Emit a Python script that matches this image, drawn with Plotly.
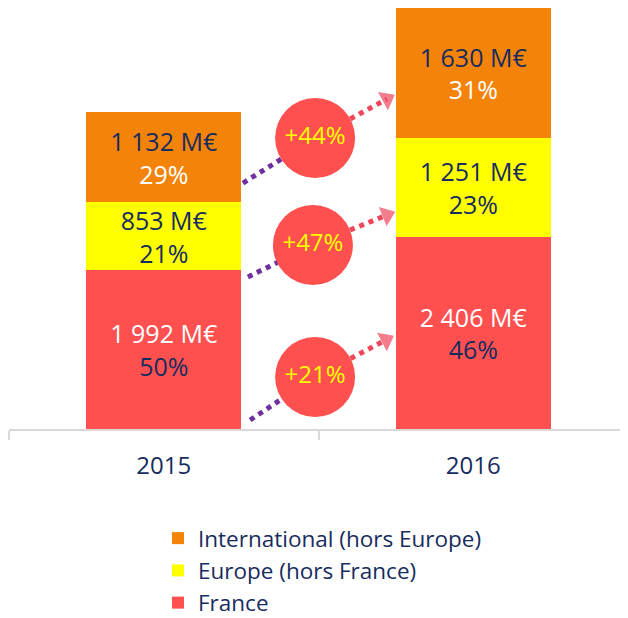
import plotly.graph_objects as go

# ---- data ----
years = ["2015", "2016"]
france = [1992, 2406]
europe = [853, 1251]
international = [1132, 1630]
pct_france = [50, 46]
pct_europe = [21, 23]
pct_international = [29, 31]
series_names = ["France", "Europe (hors France)", "International (hors Europe)"]

# ---- styles ----
FONT = "Open Sans"
NAVY = "#172C5E"
C_FR = "#FF5050"
C_EU = "#FFFF00"
C_INT = "#F4830A"
PURPLE = "#7030A0"
ARROW_RED = "#F0465C"

x_pos = [0, 1]
totals = [a + b + c for a, b, c in zip(france, europe, international)]


def fmt(v):
    s = f"{v:,}".replace(",", " ")
    return s + " M€"


def label(v, pct, c_amount, c_pct):
    return (f"<span style='color:{c_amount}'>{fmt(v)}</span><br>"
            f"<span style='color:{c_pct}'>{pct}%</span>")


fig = go.Figure()

series = [
    (france, pct_france, series_names[0], C_FR, "white", NAVY),
    (europe, pct_europe, series_names[1], C_EU, NAVY, NAVY),
    (international, pct_international, series_names[2], C_INT, NAVY, "white"),
]
for vals, pcts, name, col, ca, cp in series:
    fig.add_trace(go.Bar(
        x=x_pos, y=vals, name=name, width=0.5,
        marker=dict(color=col, line=dict(width=0)),
        text=[label(v, p, ca, cp) for v, p in zip(vals, pcts)],
        textposition="inside", insidetextanchor="middle",
        textangle=0,
        constraintext="none",
        textfont=dict(family=FONT, size=25, color=NAVY),
        hoverinfo="skip",
    ))

# ---- growth arrows and circles (decoration) ----
growth = [round((b / a - 1) * 100) for a, b in
          [(international[0], international[1]), (europe[0], europe[1]), (france[0], france[1])]]
arrow_start = [(0.256, 3089), (0.272, 1909), (0.279, 113)]
circle_ctr = [(0.489, 3654), (0.482, 2311), (0.489, 653)]
arrow_end = [(0.721, 4144), (0.721, 2687), (0.718, 1118)]

for s, c, e in zip(arrow_start, circle_ctr, arrow_end):
    fig.add_trace(go.Scatter(
        x=[s[0], c[0]], y=[s[1], c[1]], mode="lines",
        line=dict(color=PURPLE, width=5, dash="dot"),
        showlegend=False, hoverinfo="skip"))
    fig.add_trace(go.Scatter(
        x=[c[0], e[0]], y=[c[1], e[1]], mode="lines+markers",
        line=dict(color=ARROW_RED, width=5, dash="dot"),
        marker=dict(symbol="triangle-up", size=[0, 18], color=ARROW_RED,
                    angleref="previous", line=dict(width=0)),
        showlegend=False, hoverinfo="skip"))

fig.add_trace(go.Scatter(
    x=[c[0] for c in circle_ctr], y=[c[1] for c in circle_ctr],
    mode="markers+text",
    marker=dict(size=80, color=C_FR, line=dict(width=0)),
    text=[f"+{g}%" for g in growth], textposition="middle center",
    textfont=dict(family=FONT, size=24, color="#FFFF00"),
    showlegend=False, hoverinfo="skip"))

W, H = 620, 610
fig.update_layout(
    width=W, height=H,
    margin=dict(l=1, r=0, t=0, b=189, autoexpand=False),
    barmode="stack",
    plot_bgcolor="white", paper_bgcolor="white",
    font=dict(family=FONT, color=NAVY),
    showlegend=True,
    legend=dict(
        traceorder="reversed",
        orientation="v",
        xref="container", yref="container",
        x=150 / W, y=1 - 509 / H,
        xanchor="left", yanchor="top",
        font=dict(family=FONT, size=22.5, color=NAVY),
        bgcolor="rgba(0,0,0,0)",
    ),
    xaxis=dict(
        range=[-0.5, 1.5], autorange=False,
        tickmode="array", tickvals=x_pos, ticktext=years,
        ticks="", showgrid=False, zeroline=False,
        showline=True, linecolor="#D9D9D9", linewidth=2,
        tickfont=dict(family=FONT, size=24, color=NAVY),
        ticklabelstandoff=14,
        minor=dict(tickmode="array", tickvals=[-0.5, 0.5, 1.5],
                   ticks="outside", ticklen=9, tickwidth=2, tickcolor="#D9D9D9",
                   showgrid=False),
        fixedrange=True,
    ),
    yaxis=dict(
        range=[0, max(totals)], autorange=False, visible=False,
        showgrid=False, zeroline=False, fixedrange=True,
    ),
)

fig.write_html("out.html")
